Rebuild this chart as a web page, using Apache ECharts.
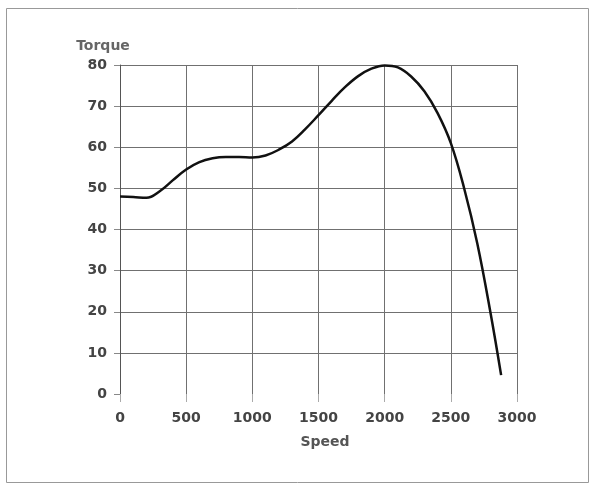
<!DOCTYPE html>
<html>
<head>
<meta charset="utf-8">
<script src="https://cdn.jsdelivr.net/npm/echarts@6/dist/echarts.min.js"></script>
<style>
html,body{margin:0;padding:0;background:#fff;}
#chart{width:592px;height:483px;}
</style>
</head>
<body>
<div id="chart"></div>
<script>
const speed = [0, 100, 200, 300, 400, 500, 600, 700, 800, 900, 1000, 1100, 1200, 1300, 1400, 1500, 1600, 1700, 1800, 1900, 2000, 2100, 2200, 2300, 2400, 2500, 2600, 2700, 2800, 2880];
const torque = [48, 47.9, 47.7, 49.3, 52.0, 54.6, 56.4, 57.3, 57.6, 57.6, 57.5, 58.0, 59.4, 61.4, 64.4, 67.8, 71.3, 74.6, 77.3, 79.1, 79.9, 79.4, 77.2, 73.6, 68.3, 61.0, 50.1, 36.6, 19.7, 4.6];
const xTicks = [0, 500, 1000, 1500, 2000, 2500, 3000];
const yTicks = [0, 10, 20, 30, 40, 50, 60, 70, 80];

const chart = echarts.init(document.getElementById('chart'), null, {renderer: 'canvas'});
const labelFont = {fontFamily: 'DejaVu Sans', fontSize: 14, fontWeight: 'bold', color: '#444'};
chart.setOption({
  animation: false,
  graphic: [{
    type: 'rect', left: 4, top: 6, silent: true,
    shape: {width: 582, height: 474},
    style: {fill: 'none', stroke: '#999', lineWidth: 1}
  }],
  grid: {left: 120, right: 75, top: 65, bottom: 89},
  xAxis: {
    type: 'value', min: xTicks[0], max: xTicks[xTicks.length - 1], interval: 500,
    name: 'Speed', nameLocation: 'middle', nameGap: 41,
    nameTextStyle: {fontFamily: 'DejaVu Sans', fontSize: 14, fontWeight: 'bold', color: '#555', padding: [0, 0, 0, 13]},
    axisLine: {show: false},
    axisTick: {show: true, length: 8, lineStyle: {color: '#aaa'}},
    axisLabel: Object.assign({margin: 17, formatter: v => String(v)}, labelFont),
    splitLine: {show: true, lineStyle: {color: '#707070', width: 1}}
  },
  yAxis: {
    type: 'value', min: yTicks[0], max: yTicks[yTicks.length - 1], interval: 10,
    name: 'Torque', nameLocation: 'end', nameGap: 12,
    nameTextStyle: {fontFamily: 'DejaVu Sans', fontSize: 14, fontWeight: 'bold', color: '#666', align: 'center', padding: [0, 34, 0, 0]},
    axisLine: {show: true, lineStyle: {color: '#555', width: 1}},
    axisTick: {show: true, length: 6, lineStyle: {color: '#888'}},
    axisLabel: Object.assign({margin: 13}, labelFont),
    splitLine: {show: true, showMinLine: false, lineStyle: {color: '#707070', width: 1}}
  },
  series: [{
    type: 'line',
    data: speed.map((s, i) => [s, torque[i]]),
    smooth: 0.4,
    showSymbol: false,
    lineStyle: {color: '#111', width: 2.5}
  }]
});
</script>
</body>
</html>
